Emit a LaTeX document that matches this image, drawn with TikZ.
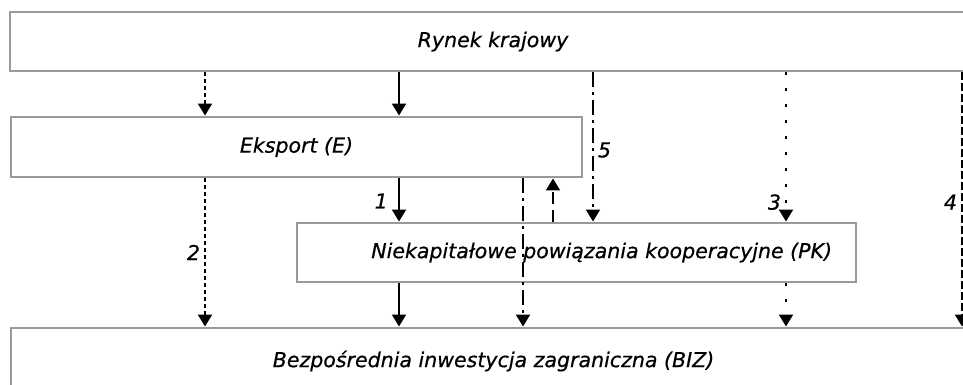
\documentclass[tikz,border=0pt]{standalone}
\usepackage{fontspec}
\setmainfont{DejaVu Sans}
\newfontfamily\panelfont{DejaVu Sans}[FakeBold=0.6]
\usetikzlibrary{arrows.meta}
\definecolor{boxgray}{HTML}{9A9A9A}
\tikzset{
  panel/.style={draw=boxgray,line width=2.2pt,fill=white,align=center,inner sep=0pt,font=\panelfont\itshape\fontsize{15.4}{18}\selectfont},
  num/.style={inner sep=3pt,font=\panelfont\itshape\fontsize{15.4}{18}\selectfont},
  flow/.style={-{Triangle[length=9pt,width=10.5pt]},line width=1.5pt},
  shortdashes/.style={dash pattern=on 3pt off 2.25pt},
  sparsedots/.style={dash pattern=on 2.25pt off 9.75pt},
  longdashes/.style={dash pattern=on 6pt off 2.25pt},
  dashdots/.style={dash pattern=on 11.25pt off 3.75pt on 2.25pt off 3.75pt},
  backdashes/.style={dash pattern=on 9pt off 4.5pt},
}

\begin{document}
\begin{tikzpicture}[x=0.75pt,y=-0.75pt]
  \useasboundingbox (0,0) rectangle (963,385);
  \clip (0,0) rectangle (963,385);
  % boxes
  \node[panel,minimum width=724.5pt,minimum height=44.25pt] (market) at (493,41.5) {Rynek krajowy};
  \node[panel,minimum width=428.25pt,minimum height=45pt] (export) at (296.5,147) {Eksport (E)};
  \node[panel,minimum width=419.25pt,minimum height=44.25pt,text width=383.25pt,inner xsep=18pt,align=flush right] (coop) at (576.5,252.5) {Niekapitałowe powiązania kooperacyjne (PK)};
  \node[panel,minimum width=723.75pt,minimum height=49.5pt] (fdi) at (493.5,361) {Bezpośrednia inwestycja zagraniczna (BIZ)};
  % solid chain
  \foreach \a/\b in {market/export,export/coop,coop/fdi}{\draw[flow] (\a.south -| 399,0) -- (\b.north -| 399,0);}
  \node[num,anchor=east] (n1) at (392,201) {1};
  % other links
  \draw[flow,shortdashes] (market.south -| 205,0) -- (export.north -| 205,0);
  \draw[flow,shortdashes] (export.south -| 205,0) -- node[num,left] (n2) {2} (fdi.north -| 205,0);
  \draw[flow,dashdots] (market.south -| 593,0) -- node[num,right,pos=.52] (n5) {5} (coop.north -| 593,0);
  \draw[flow,sparsedots] (market.south -| 786,0) -- node[num,left,pos=.87] (n3) {3} (coop.north -| 786,0);
  \draw[flow,sparsedots] (coop.south -| 786,0) -- (fdi.north -| 786,0);
  \draw[flow,longdashes] (market.south -| 962,0) -- node[num,left,pos=.51] (n4) {4} (fdi.north -| 962,0);
  \draw[flow,dashdots] (export.south -| 523,0) -- (fdi.north -| 523,0);
  \draw[flow,backdashes] (coop.north -| 553,0) -- (export.south -| 553,0);
\end{tikzpicture}
\end{document}
